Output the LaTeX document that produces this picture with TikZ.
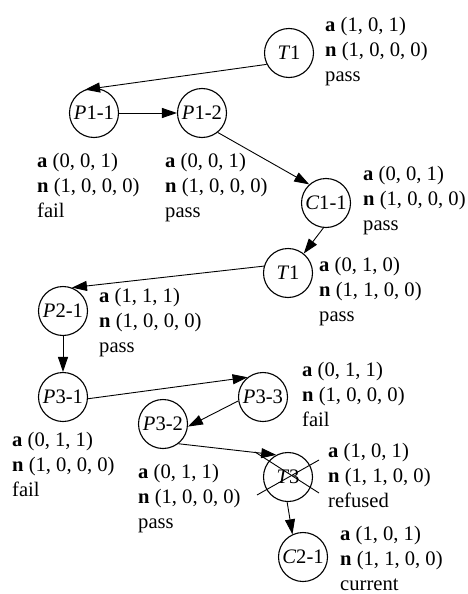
\documentclass[tikz,border=0pt]{standalone}
\usepackage{fontspec}
\setmainfont{Liberation Serif}
\usetikzlibrary{arrows.meta}

\begin{document}
\begin{tikzpicture}[x=1pt,y=-1pt,
state/.style={draw,circle,line width=1.1pt,minimum size=49pt,inner sep=0pt,font=\fontsize{20.6}{25}\selectfont},
info/.style={anchor=north west,align=left,inner sep=0pt,font=\fontsize{20.6}{25}\selectfont},
edge/.style={-{Triangle[length=15pt,width=10pt]},line width=0.9pt}]
\useasboundingbox (0,0) rectangle (467,594);
\node[state] (T1a) at (289,53) {\textit{T}1};
\node[state] (P11) at (94,113) {\textit{P}1-1};
\node[state] (P12) at (202,113) {\textit{P}1-2};
\node[state] (C11) at (326,203) {\textit{C}1-1};
\node[state] (T1b) at (288,273) {\textit{T}1};
\node[state] (P21) at (63,311) {\textit{P}2-1};
\node[state] (P31) at (63,397) {\textit{P}3-1};
\node[state] (P33) at (263,397) {\textit{P}3-3};
\node[state] (P32) at (163,424) {\textit{P}3-2};
\node[state] (T3) at (288,477) {\textit{T}3};
\node[state] (C21) at (303,557) {\textit{C}2-1};
\node[info] (T1ainfo) at (325,17) {\textbf{a} (1, 0, 1)\\\textbf{n} (1, 0, 0, 0)\\pass};
\node[info] (P11info) at (37,153) {\textbf{a} (0, 0, 1)\\\textbf{n} (1, 0, 0, 0)\\fail};
\node[info] (P12info) at (165,153) {\textbf{a} (0, 0, 1)\\\textbf{n} (1, 0, 0, 0)\\pass};
\node[info] (C11info) at (363,166) {\textbf{a} (0, 0, 1)\\\textbf{n} (1, 0, 0, 0)\\pass};
\node[info] (T1binfo) at (319,257) {\textbf{a} (0, 1, 0)\\\textbf{n} (1, 1, 0, 0)\\pass};
\node[info] (P21info) at (99,288) {\textbf{a} (1, 1, 1)\\\textbf{n} (1, 0, 0, 0)\\pass};
\node[info] (P33info) at (302,362) {\textbf{a} (0, 1, 1)\\\textbf{n} (1, 0, 0, 0)\\fail};
\node[info] (P31info) at (12,432) {\textbf{a} (0, 1, 1)\\\textbf{n} (1, 0, 0, 0)\\fail};
\node[info] (P32info) at (138,464) {\textbf{a} (0, 1, 1)\\\textbf{n} (1, 0, 0, 0)\\pass};
\node[info] (T3info) at (328,443) {\textbf{a} (1, 0, 1)\\\textbf{n} (1, 1, 0, 0)\\refused};
\node[info] (C21info) at (340,526) {\textbf{a} (1, 0, 1)\\\textbf{n} (1, 1, 0, 0)\\current};
\draw[edge] (T1a.207) -- (P11.111);
\draw[edge] (P11) -- (P12);
\draw[edge] (P12.309) -- (C11.132);
\draw[edge] (C11.264) -- (T1b.51);
\draw[edge] (T1b.164) -- (P21.69);
\draw[edge] (P21) -- (P31);
\draw[edge] (P31.356) -- (P33.128);
\draw[edge] (P33.189) -- (P32.354);
\draw[edge] (P32.308) -- (T3.118);
\draw[edge] (T3.268) -- (C21.115);
\draw[line width=0.9pt] ([shift={(-33,-25)}]T3.center) -- ([shift={(31,16)}]T3.center);
\draw[line width=0.9pt] ([shift={(-31,18)}]T3.center) -- ([shift={(31,-17)}]T3.center);
\end{tikzpicture}
\end{document}
